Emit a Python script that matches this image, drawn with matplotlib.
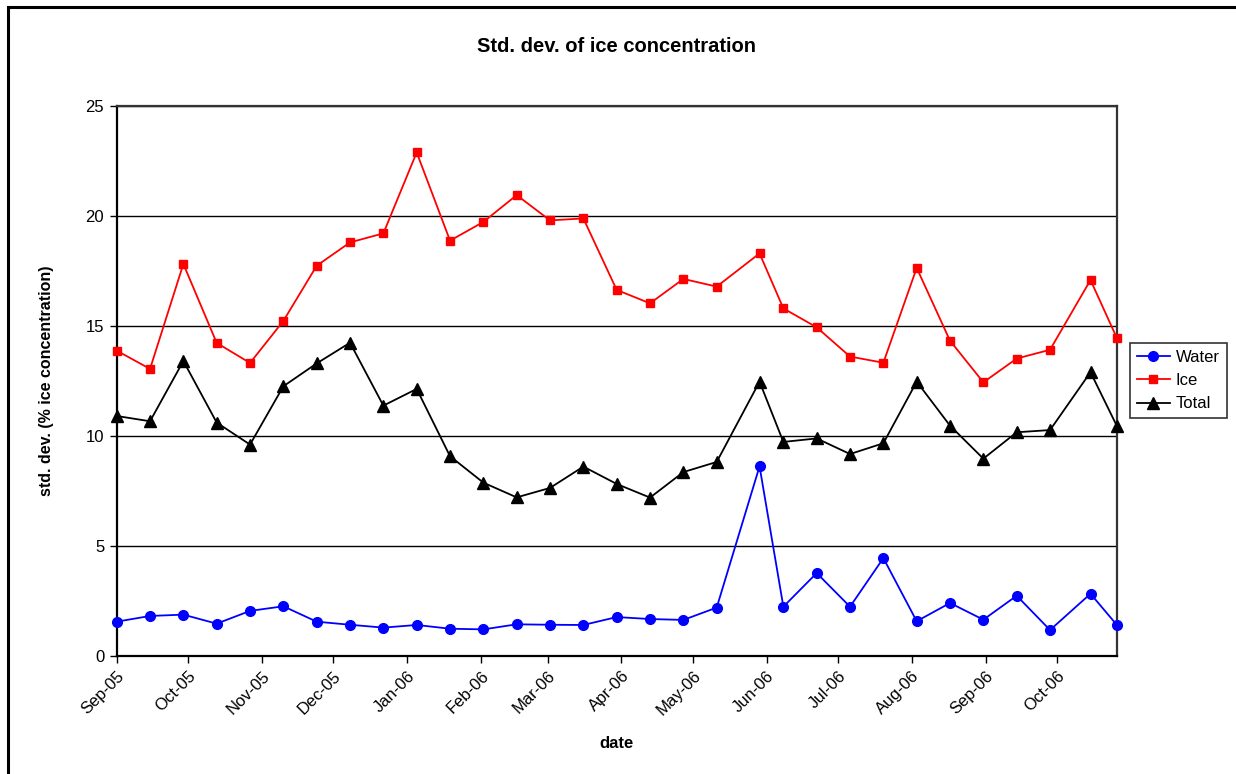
import matplotlib
matplotlib.use("Agg")
import matplotlib.pyplot as plt
import matplotlib.dates as mdates
from matplotlib.patches import Rectangle
import numpy as np

dates = ["2005-09-01", "2005-09-15", "2005-09-29", "2005-10-13", "2005-10-27",
         "2005-11-10", "2005-11-24", "2005-12-08", "2005-12-22", "2006-01-05",
         "2006-01-19", "2006-02-02", "2006-02-16", "2006-03-02", "2006-03-16",
         "2006-03-30", "2006-04-13", "2006-04-27", "2006-05-11", "2006-05-29",
         "2006-06-08", "2006-06-22", "2006-07-06", "2006-07-20", "2006-08-03",
         "2006-08-17", "2006-08-31", "2006-09-14", "2006-09-28", "2006-10-15",
         "2006-10-26"]

water = [1.56, 1.82, 1.88, 1.47, 2.05, 2.26, 1.56, 1.42, 1.29, 1.41,
         1.24, 1.21, 1.44, 1.42, 1.41, 1.77, 1.68, 1.64, 2.20, 8.62,
         2.24, 3.77, 2.24, 4.45, 1.58, 2.41, 1.65, 2.74, 1.18, 2.83, 1.42]

ice = [13.88, 13.05, 17.82, 14.23, 13.32, 15.23, 17.74, 18.80, 19.21, 22.89,
       18.88, 19.73, 20.95, 19.80, 19.89, 16.64, 16.03, 17.14, 16.79, 18.30,
       15.80, 14.94, 13.61, 13.33, 17.64, 14.33, 12.44, 13.52, 13.92, 17.09, 14.47]

total = [10.91, 10.67, 13.41, 10.61, 9.61, 12.26, 13.30, 14.24, 11.38, 12.14,
         9.08, 7.88, 7.21, 7.64, 8.61, 7.82, 7.20, 8.36, 8.82, 12.47,
         9.73, 9.89, 9.18, 9.67, 12.47, 10.47, 8.97, 10.17, 10.27, 12.90, 10.47]

series_names = ["Water", "Ice", "Total"]
y_ticks = [0, 5, 10, 15, 20, 25]

plt.rcParams['font.family'] = ['Liberation Sans', 'DejaVu Sans']

x = np.array(dates, dtype="datetime64[D]").astype("O")

fig = plt.figure(figsize=(12.36, 7.74), dpi=100)
W, H = 1236, 774
ax = fig.add_axes([116.7 / W, (H - 656) / H, 1000 / W, 550 / H])

# outer chart border (left/top visible)
fig.patches.append(Rectangle((8 / W, -0.1), 1.2, (H - 7) / H + 0.1, transform=fig.transFigure,
                             fill=False, edgecolor="black", linewidth=2.2, zorder=0))

ax.plot(x, water, color="#0000FF", marker="o", markersize=7, linewidth=1.3,
        label=series_names[0], clip_on=False, zorder=5)
ax.plot(x, ice, color="#FF0000", marker="s", markersize=5.5, linewidth=1.3,
        label=series_names[1], clip_on=False, zorder=5)
ax.plot(x, total, color="black", marker="^", markersize=8, linewidth=1.3,
        label=series_names[2], clip_on=False, zorder=5)

ax.set_xlim(x[0], x[-1])
ax.set_ylim(0, 25)
ax.set_yticks(y_ticks)
ax.yaxis.grid(True, color="black", linewidth=1.0)
ax.set_axisbelow(True)

ax.xaxis.set_major_locator(mdates.MonthLocator())
ax.xaxis.set_major_formatter(mdates.DateFormatter("%b-%y"))
for lab in ax.get_xticklabels():
    lab.set_rotation(45)
    lab.set_ha("right")
    lab.set_rotation_mode("anchor")

ax.tick_params(axis="both", direction="out", length=5, width=1.0, labelsize=12, colors="black")
ax.tick_params(axis="x", pad=4)
ax.tick_params(axis="y", pad=4)

for s in ["left", "bottom"]:
    ax.spines[s].set_linewidth(1.6)
    ax.spines[s].set_color("black")
for s in ["top", "right"]:
    ax.spines[s].set_linewidth(1.6)
    ax.spines[s].set_color("#333333")

ax.set_title("Std. dev. of ice concentration", fontsize=14.5, fontweight="bold", pad=39)
ax.set_xlabel("date", fontsize=12, fontweight="bold", labelpad=13)
ax.set_ylabel("std. dev. (% ice concentration)", fontsize=11.5, fontweight="bold", labelpad=23)

leg = ax.legend(loc="upper left", bbox_to_anchor=(1130 / W, (H - 343) / H),
                bbox_transform=fig.transFigure, fontsize=12, frameon=True,
                fancybox=False, edgecolor="black", borderpad=0.4, labelspacing=0.5,
                handlelength=2.0, handletextpad=0.35, borderaxespad=0)
leg.get_frame().set_linewidth(1.2)

fig.savefig("out.png", dpi=100)
